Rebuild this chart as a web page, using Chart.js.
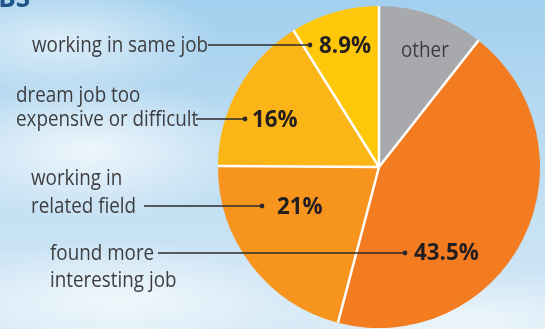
<!DOCTYPE html>
<html lang="en">
<head>
<meta charset="UTF-8">
<title>Jobs pie</title>
<script src="https://cdn.jsdelivr.net/npm/chart.js@4"></script>
<style>
  html, body { margin: 0; padding: 0; }
  body {
    width: 545px; height: 329px; overflow: hidden;
    background:
      radial-gradient(ellipse 180px 70px at 90px 150px, rgba(255,255,255,0.75), rgba(255,255,255,0) 100%),
      radial-gradient(ellipse 220px 60px at 120px 300px, rgba(255,255,255,0.7), rgba(255,255,255,0) 100%),
      radial-gradient(ellipse 160px 60px at 60px 40px, rgba(255,255,255,0.6), rgba(255,255,255,0) 100%),
      radial-gradient(ellipse 200px 50px at 470px 320px, rgba(255,255,255,0.6), rgba(255,255,255,0) 100%),
      linear-gradient(to bottom, #a2d0ee 0%, #bcdcf2 45%, #d3e8f6 100%);
  }
  canvas { display: block; }
</style>
</head>
<body>
<canvas id="chart" width="545" height="329"></canvas>
<script>
// slices, clockwise from 12 o'clock
const categories = ['other', 'found more interesting job', 'working in related field', 'dream job too expensive or difficult', 'working in same job'];
const values = [10.6, 43.5, 21, 16, 8.9];
const valueLabels = ['', '43.5%', '21%', '16%', '8.9%'];
const labelLines = [['other'], ['found more', 'interesting job'], ['working in', 'related field'], ['dream job too', 'expensive or difficult'], ['working in same job']];
const colors = ['#a7a9ac', '#f37b20', '#f7941e', '#fcb517', '#ffc709'];

// where the callouts sit (text x, baselines, leader line y / start / dot, % label x + baseline)
const callouts = [
  {tx: 401, base: [57], inside: true},
  {tx: 50, base: [260, 287], ly: 253, lx0: 158, dot: 405, px: 414, pb: 260},
  {tx: 31, base: [185, 213], ly: 206, lx0: 144, dot: 262, px: 277, pb: 214},
  {tx: 16, base: [102, 126], ly: 119, lx0: 196, dot: 245, px: 252, pb: 127},
  {tx: 32, base: [52], ly: 45, lx0: 208, dot: 310, px: 319, pb: 53}
];

const textFont = '22px "Open Sans"';
const pctFont = 'bold 24px "Open Sans"';

function squeezed(ctx, text, x, y, k) {
  ctx.save();
  ctx.translate(x, y);
  ctx.scale(k, 1);
  ctx.fillText(text, 0, 0);
  ctx.restore();
}

const decor = {
  id: 'decor',
  afterDatasetsDraw(chart) {
    const ctx = chart.ctx;
    const arcs = chart.getDatasetMeta(0).data;
    // white separators from the centre
    ctx.save();
    ctx.strokeStyle = '#ffffff';
    ctx.lineWidth = 2.5;
    arcs.forEach(a => {
      ctx.beginPath();
      ctx.moveTo(a.x, a.y);
      ctx.lineTo(a.x + a.outerRadius * Math.cos(a.startAngle), a.y + a.outerRadius * Math.sin(a.startAngle));
      ctx.stroke();
    });
    ctx.restore();

    ctx.save();
    ctx.textBaseline = 'alphabetic';
    ctx.textAlign = 'left';
    ctx.font = textFont;
    const k = 176 / ctx.measureText('working in same job').width;
    ctx.font = pctFont;
    const kb = 52 / ctx.measureText('8.9%').width;

    callouts.forEach((c, i) => {
      ctx.font = textFont;
      ctx.fillStyle = '#3d3d3f';
      labelLines[i].forEach((t, j) => squeezed(ctx, t, c.tx, c.base[j], k));
      if (c.inside) return;
      ctx.strokeStyle = '#2b2b2b';
      ctx.lineWidth = 1.3;
      ctx.beginPath();
      ctx.moveTo(c.lx0, c.ly);
      ctx.lineTo(c.dot, c.ly);
      ctx.stroke();
      ctx.fillStyle = '#2b2b2b';
      ctx.beginPath();
      ctx.arc(c.dot, c.ly, 2.4, 0, Math.PI * 2);
      ctx.fill();
      ctx.font = pctFont;
      ctx.fillStyle = '#231f20';
      squeezed(ctx, valueLabels[i], c.px, c.pb, kb);
    });

    // cropped heading at the top left
    ctx.font = 'bold 26px "Open Sans"';
    ctx.fillStyle = '#1e5486';
    ctx.textAlign = 'right';
    squeezed(ctx, 'JOBS', 30, 7, 1);
    ctx.restore();
  }
};

const ctx = document.getElementById('chart').getContext('2d');
new Chart(ctx, {
  type: 'pie',
  data: {
    labels: categories,
    datasets: [{
      data: values,
      backgroundColor: colors,
      borderWidth: 0
    }]
  },
  options: {
    responsive: false,
    animation: false,
    devicePixelRatio: 1,
    radius: 161,
    layout: { padding: { left: 213, right: 0, top: 5, bottom: 0 } },
    plugins: { legend: { display: false }, tooltip: { enabled: false } }
  },
  plugins: [decor]
});
</script>
</body>
</html>
